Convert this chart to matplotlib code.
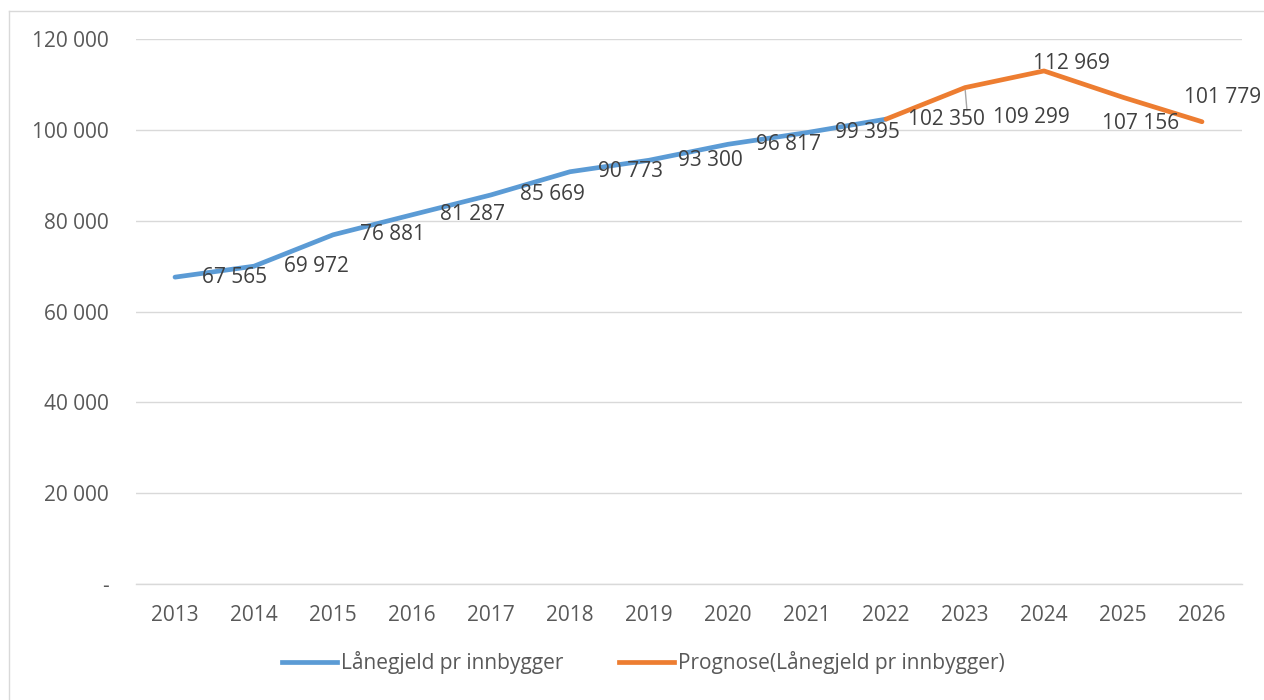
import numpy as np
import matplotlib.pyplot as plt
from matplotlib.lines import Line2D

# DATA
years = ["2013", "2014", "2015", "2016", "2017", "2018", "2019",
         "2020", "2021", "2022", "2023", "2024", "2025", "2026"]

laanegjeld = [67565, 69972, 76881, 81287, 85669, 90773, 93300,
              96817, 99395, 102350]          # 2013-2022
prognose = [102350, 109299, 112969, 107156, 101779]   # 2022-2026

y_ticks = [0, 20000, 40000, 60000, 80000, 100000, 120000]

# label offsets in pixels (dx, dy), as placed in the original
label_offsets = [(60, 0), (62, 0), (60, 0), (61, 0), (61, 0), (61, 0), (61, 0),
                 (61, 0), (60, 0), (60, 0), (66, -30), (27, 7), (18, -26), (21, 24)]

BLUE = "#5B9BD5"
ORANGE = "#ED7D31"
GRID = "#D9D9D9"
TXT = "#404040"
TICK = "#595959"

plt.rcParams['font.family'] = ['Open Sans', 'DejaVu Sans']

W, H = 1264, 700
fig = plt.figure(figsize=(W / 100, H / 100), dpi=100)
ax = fig.add_axes([135.5 / W, 1 - 584 / H, (1241.5 - 135.5) / W, (584 - 39) / H])

x = np.arange(len(years))
n_hist = len(laanegjeld)

ax.plot(x[:n_hist], laanegjeld, color=BLUE, lw=3.4, solid_capstyle='round', zorder=3)
ax.plot(x[n_hist - 1:], prognose, color=ORANGE, lw=3.4, solid_capstyle='round', zorder=3)

alle = laanegjeld + prognose[1:]

for i, v in enumerate(alle):
    dx, dy = label_offsets[i]
    txt = f"{v:,}".replace(",", " ")
    ax.annotate(txt, (x[i], v), xytext=(dx, dy), textcoords='offset pixels',
                ha='center', va='center', fontsize=15, color=TXT, zorder=4)

# leader line for 2023
ax.annotate("", (x[10], alle[10]), xytext=(2, -23), textcoords='offset pixels',
            arrowprops=dict(arrowstyle='-', color="#A6A6A6", lw=1, shrinkA=0, shrinkB=2))

ax.set_xlim(-0.5, len(years) - 0.5)
ax.set_ylim(0, 120000)
ax.set_xticks(x)
ax.set_xticklabels(years)
ax.set_yticks(y_ticks)
ax.set_yticklabels(["-" if t == 0 else f"{t:,}".replace(",", " ") for t in y_ticks])

ax.tick_params(axis='both', length=0, labelsize=15, colors=TICK)
ax.tick_params(axis='y', pad=19)
ax.tick_params(axis='x', pad=15)

ax.grid(axis='y', color=GRID, lw=1)
ax.set_axisbelow(True)
for s in ['top', 'right', 'left']:
    ax.spines[s].set_visible(False)
ax.spines['bottom'].set_color(GRID)
ax.spines['bottom'].set_linewidth(1)

# LEGEND
handles = [Line2D([], [], color=BLUE, lw=3.4),
           Line2D([], [], color=ORANGE, lw=3.4)]
fig.legend(handles, ["Lånegjeld pr innbygger", "Prognose(Lånegjeld pr innbygger)"],
           loc='center', bbox_to_anchor=(643.5 / W, 1 - 663 / H), ncol=2,
           frameon=False, fontsize=15, handlelength=2.6, handletextpad=0.2,
           columnspacing=2.7, labelcolor=TICK)

# chart frame (left and top edge only visible)
fig.add_artist(Line2D([8.5 / W, 8.5 / W], [0, 1 - 10.5 / H], color=GRID, lw=1))
fig.add_artist(Line2D([8.5 / W, 1], [1 - 10.5 / H, 1 - 10.5 / H], color=GRID, lw=1))

fig.savefig("out.png", dpi=100)
